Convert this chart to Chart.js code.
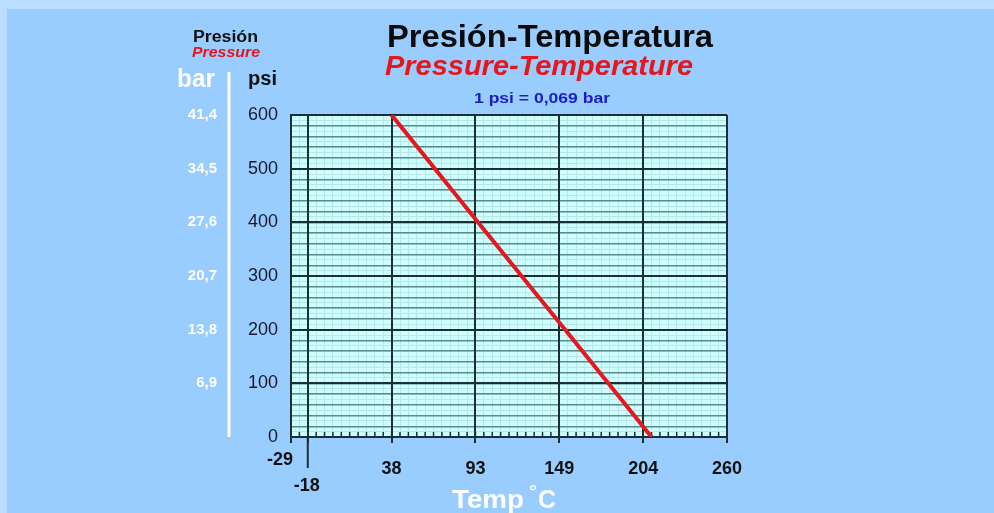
<!DOCTYPE html>
<html>
<head>
<meta charset="utf-8">
<script src="https://cdn.jsdelivr.net/npm/chart.js@4.4.0/dist/chart.umd.min.js"></script>
<style>
html, body { margin: 0; padding: 0; background: #BBDDFF; }
#ptchart { display: block; }
</style>
</head>
<body>
<canvas id="ptchart" width="994" height="513"></canvas>
<script>
// temperature grid is laid out in Fahrenheit, labelled in Celsius
var tempTicksF = [-20, 0, 100, 200, 300, 400, 500];
var tempLabelsC = ['-29', '-18', '38', '93', '149', '204', '260'];
var barLabels = ['', '6,9', '13,8', '20,7', '27,6', '34,5', '41,4'];

// the red curve
var lineTempF = [100, 203, 255, 307, 410];
var linePsi = [600, 400, 300, 200, 0];

var FONT = "'Liberation Sans', Arial, sans-serif";
Chart.defaults.font.family = FONT;

function putText(ctx, str, left, base, width, font, color) {
	ctx.save();
	ctx.font = font;
	ctx.fillStyle = color;
	ctx.textAlign = 'left';
	ctx.textBaseline = 'alphabetic';
	var w = ctx.measureText(str).width;
	ctx.translate(left, base);
	ctx.scale(width / w, 1);
	ctx.fillText(str, 0, 0);
	ctx.restore();
}

var decor = {
	id: 'decor',
	beforeDraw: function (chart) {
		var ctx = chart.ctx, a = chart.chartArea;
		ctx.save();
		ctx.fillStyle = '#BBDDFF';
		ctx.fillRect(0, 0, chart.width, chart.height);
		ctx.fillStyle = '#99CCFF';
		ctx.fillRect(7, 9, chart.width - 7, chart.height - 9);
		ctx.fillStyle = '#CCFFFF';
		ctx.fillRect(a.left, a.top, a.right - a.left, a.bottom - a.top);
		ctx.restore();
	},
	beforeDatasetsDraw: function (chart) {
		var ctx = chart.ctx, a = chart.chartArea;
		var xs = chart.scales.x10, x = chart.scales.x;
		ctx.save();
		ctx.strokeStyle = '#1b3030';
		ctx.lineWidth = 1.5;
		xs.ticks.forEach(function (t) {
			var px = xs.getPixelForValue(t.value);
			ctx.beginPath();
			ctx.moveTo(px, a.bottom);
			ctx.lineTo(px, a.bottom - 5);
			ctx.stroke();
		});
		// the 0 F line runs down past the axis
		ctx.lineWidth = 2;
		var p0 = x.getPixelForValue(tempTicksF[1]);
		ctx.beginPath();
		ctx.moveTo(p0, a.bottom);
		ctx.lineTo(p0, a.bottom + 31);
		ctx.stroke();
		ctx.restore();
	},
	afterDraw: function (chart) {
		var ctx = chart.ctx, a = chart.chartArea, x = chart.scales.x;
		// white divider between bar and psi columns
		ctx.save();
		ctx.strokeStyle = '#ffffff';
		ctx.lineWidth = 3;
		ctx.beginPath();
		ctx.moveTo(229, 72);
		ctx.lineTo(229, a.bottom);
		ctx.stroke();
		ctx.restore();

		putText(ctx, 'Presión-Temperatura', 387, 47, 326, 'bold 31px ' + FONT, '#0a0a0a');
		putText(ctx, 'Pressure-Temperature', 385, 75, 308, 'italic bold 27px ' + FONT, '#e8161c');
		putText(ctx, '1 psi = 0,069 bar', 474, 103, 136, 'bold 15px ' + FONT, '#1c1cc8');
		putText(ctx, 'Presión', 193, 42, 65, 'bold 16px ' + FONT, '#111111');
		putText(ctx, 'Pressure', 192, 57, 68, 'italic bold 14px ' + FONT, '#e8161c');
		putText(ctx, 'bar', 177, 87, 38, 'bold 25px ' + FONT, '#ffffff');
		putText(ctx, 'psi', 248, 85, 29, 'bold 20px ' + FONT, '#111111');
		putText(ctx, 'Temp', 452, 508, 72, 'bold 25px ' + FONT, '#ffffff');
		putText(ctx, '°', 529, 496, 8, 'bold 14px ' + FONT, '#ffffff');
		putText(ctx, 'C', 538, 508, 18, 'bold 25px ' + FONT, '#ffffff');

		// the two staggered labels at the left end of the x axis
		ctx.save();
		ctx.font = 'bold 18px ' + FONT;
		ctx.fillStyle = '#111111';
		ctx.textAlign = 'center';
		ctx.textBaseline = 'middle';
		ctx.fillText(tempLabelsC[0], x.getPixelForValue(tempTicksF[0]) - 11, 460);
		ctx.fillText(tempLabelsC[1], x.getPixelForValue(tempTicksF[1]) - 1, 486);
		ctx.restore();
	}
};

var linePoints = lineTempF.map(function (t, i) { return { x: t, y: linePsi[i] }; });

var ctx1 = document.getElementById('ptchart');
var ptChart = new Chart(ctx1, {
	type: 'scatter',
	data: {
		datasets: [{
			label: 'psi',
			data: linePoints,
			showLine: true,
			borderColor: '#e3191f',
			borderWidth: 4,
			pointRadius: 0,
			tension: 0
		}]
	},
	options: {
		responsive: false,
		animation: false,
		layout: { padding: { top: 115, right: 267, left: 0, bottom: 0 } },
		plugins: {
			legend: { display: false },
			tooltip: { enabled: false }
		},
		scales: {
			x: {
				type: 'linear',
				position: 'bottom',
				min: -20,
				max: 500,
				afterBuildTicks: function (scale) {
					scale.ticks = tempTicksF.map(function (v) { return { value: v }; });
				},
				afterFit: function (scale) { scale.height = 76; },
				grid: { color: '#1b3030', lineWidth: 2, tickLength: 6, drawTicks: true, z: -1 },
				border: { display: true, color: '#1b3030', width: 2 },
				ticks: {
					autoSkip: false,
					maxRotation: 0,
					padding: 15,
					color: '#111111',
					font: { size: 18, weight: 'bold' },
					callback: function (v) {
						var i = tempTicksF.indexOf(v);
						return i > 1 ? tempLabelsC[i] : '';
					}
				}
			},
			x10: {
				type: 'linear',
				position: 'bottom',
				min: -20,
				max: 500,
				afterFit: function (scale) { scale.height = 0; },
				grid: { color: '#bce6e6', lineWidth: 1, drawTicks: false, z: -3 },
				border: { display: false },
				ticks: { display: false, stepSize: 10, autoSkip: false }
			},
			y: {
				type: 'linear',
				position: 'left',
				weight: 0,
				min: 0,
				max: 600,
				afterFit: function (scale) { scale.width = 58; },
				grid: { color: '#1b3030', lineWidth: 2, drawTicks: false, z: -1 },
				border: { display: true, color: '#1b3030', width: 2 },
				ticks: { stepSize: 100, padding: 13, color: '#1a1a2e', font: { size: 18 } }
			},
			yBar: {
				type: 'linear',
				position: 'left',
				weight: 2,
				min: 0,
				max: 600,
				afterFit: function (scale) { scale.width = 233; },
				grid: { display: false },
				border: { display: false },
				ticks: {
					stepSize: 100,
					padding: 8,
					color: '#ffffff',
					font: { size: 15, weight: 'bold' },
					callback: function (v, i) { return barLabels[i]; }
				}
			},
			y20: {
				type: 'linear',
				position: 'left',
				weight: -1,
				min: 0,
				max: 600,
				afterFit: function (scale) { scale.width = 0; },
				grid: { color: '#5a8a8a', lineWidth: 1.5, drawTicks: false, z: -2 },
				border: { display: false },
				ticks: { display: false, stepSize: 20, autoSkip: false }
			},
			y10: {
				type: 'linear',
				position: 'left',
				weight: -2,
				min: 0,
				max: 600,
				afterFit: function (scale) { scale.width = 0; },
				grid: { color: '#bce6e6', lineWidth: 1, drawTicks: false, z: -3 },
				border: { display: false },
				ticks: { display: false, stepSize: 10, autoSkip: false }
			}
		}
	},
	plugins: [decor]
});
</script>
</body>
</html>
